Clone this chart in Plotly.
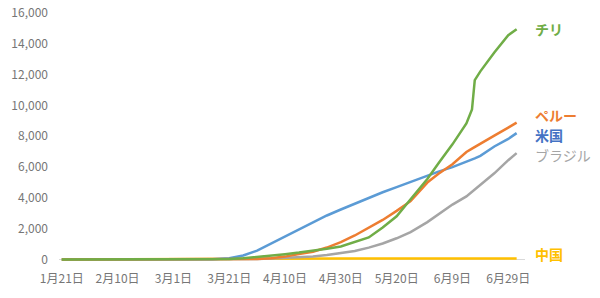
import plotly.graph_objects as go

dates = ["2020-01-21", "2020-02-01", "2020-02-10", "2020-02-20", "2020-03-01", "2020-03-10",
         "2020-03-15", "2020-03-21", "2020-03-26", "2020-03-31", "2020-04-05", "2020-04-10",
         "2020-04-15", "2020-04-20", "2020-04-25", "2020-04-30", "2020-05-05", "2020-05-10",
         "2020-05-15", "2020-05-20", "2020-05-25", "2020-05-31", "2020-06-04", "2020-06-09",
         "2020-06-14", "2020-06-16", "2020-06-17", "2020-06-19", "2020-06-24", "2020-06-29",
         "2020-07-02"]

chile = [0, 0, 0, 0, 0, 0.7, 4, 28, 70, 150, 240, 340, 440, 550, 690, 840, 1120, 1425,
         2070, 2800, 3900, 5220, 6240, 7470, 8830, 9730, 11640, 12210, 13430, 14560, 14950]
peru = [0, 0, 0, 0, 0, 0.2, 1, 10, 17, 31, 77, 180, 348, 495, 768, 1120, 1553, 2040,
        2560, 3150, 3780, 4990, 5560, 6180, 6970, 7190, 7300, 7520, 8040, 8560, 8880]
usa = [0, 0, 0, 0, 0.2, 3, 11, 77, 250, 570, 1030, 1500, 1940, 2370, 2850, 3240, 3630, 4010,
       4360, 4690, 5030, 5420, 5700, 5990, 6320, 6470, 6560, 6720, 7330, 7820, 8200]
brazil = [0, 0, 0, 0, 0, 0.2, 0.9, 5, 14, 27, 53, 92, 133, 190, 280, 400, 540, 765,
          1030, 1370, 1770, 2420, 2920, 3560, 4090, 4380, 4540, 4860, 5590, 6440, 6900]
china = [0.2, 8.5, 30, 53, 57, 58, 58, 58, 58, 58, 58, 58, 59, 59, 59, 59, 59, 59,
         59, 59, 59, 59, 59, 59, 59.3, 59.4, 59.4, 59.5, 59.5, 59.6, 59.6]

tick_dates = ["2020-01-21", "2020-02-10", "2020-03-01", "2020-03-21", "2020-04-10",
              "2020-04-30", "2020-05-20", "2020-06-09", "2020-06-29"]
tick_text = ["1月21日", "2月10日", "3月1日", "3月21日", "4月10日", "4月30日",
             "5月20日", "6月9日", "6月29日"]
y_ticks = [0, 2000, 4000, 6000, 8000, 10000, 12000, 14000, 16000]

labels = ["チリ", "ペルー", "米国", "ブラジル", "中国"]
label_y = [14960, 9365, 8065, 6764, 325]

series = [
    ("中国", china, "#FFC000"),
    ("ブラジル", brazil, "#A5A5A5"),
    ("米国", usa, "#5B9BD5"),
    ("ペルー", peru, "#ED7D31"),
    ("チリ", chile, "#70AD47"),
]
label_colors = {"チリ": "#70AD47", "ペルー": "#ED7D31", "米国": "#4472C4",
                "ブラジル": "#A5A5A5", "中国": "#FFC000"}

fig = go.Figure()
for name, vals, col in series:
    fig.add_trace(go.Scatter(x=dates, y=vals, mode="lines", name=name,
                             line=dict(color=col, width=2.5), showlegend=False))

for lab, ly in zip(labels, label_y):
    txt = lab if lab == "ブラジル" else f"<b>{lab}</b>"
    fig.add_annotation(x=1.017, xref="paper", y=ly, yref="y", text=txt,
                       showarrow=False, xanchor="left", yanchor="middle",
                       font=dict(size=14, color=label_colors[lab],
                                 family="Noto Sans CJK JP"))

fig.update_layout(
    width=600, height=298,
    margin=dict(l=59, r=75, t=13, b=34, autoexpand=False),
    paper_bgcolor="white", plot_bgcolor="white",
    font=dict(family="Noto Sans CJK JP", size=12, color="#767676"),
)
fig.update_xaxes(range=["2020-01-20", "2020-07-05"], tickvals=tick_dates, ticktext=tick_text,
                 showgrid=False, zeroline=False, showline=False, ticks="", automargin=False,
                 tickfont=dict(size=12, color="#767676"), ticklabelstandoff=6)
fig.update_yaxes(range=[-300, 16000], tickvals=y_ticks, tickformat=",", automargin=False,
                 showgrid=False, zeroline=True, zerolinecolor="#D9D9D9", zerolinewidth=1,
                 showline=False, ticks="", tickfont=dict(size=12, color="#767676"),
                 ticklabelstandoff=10)

fig.write_html("out.html")
